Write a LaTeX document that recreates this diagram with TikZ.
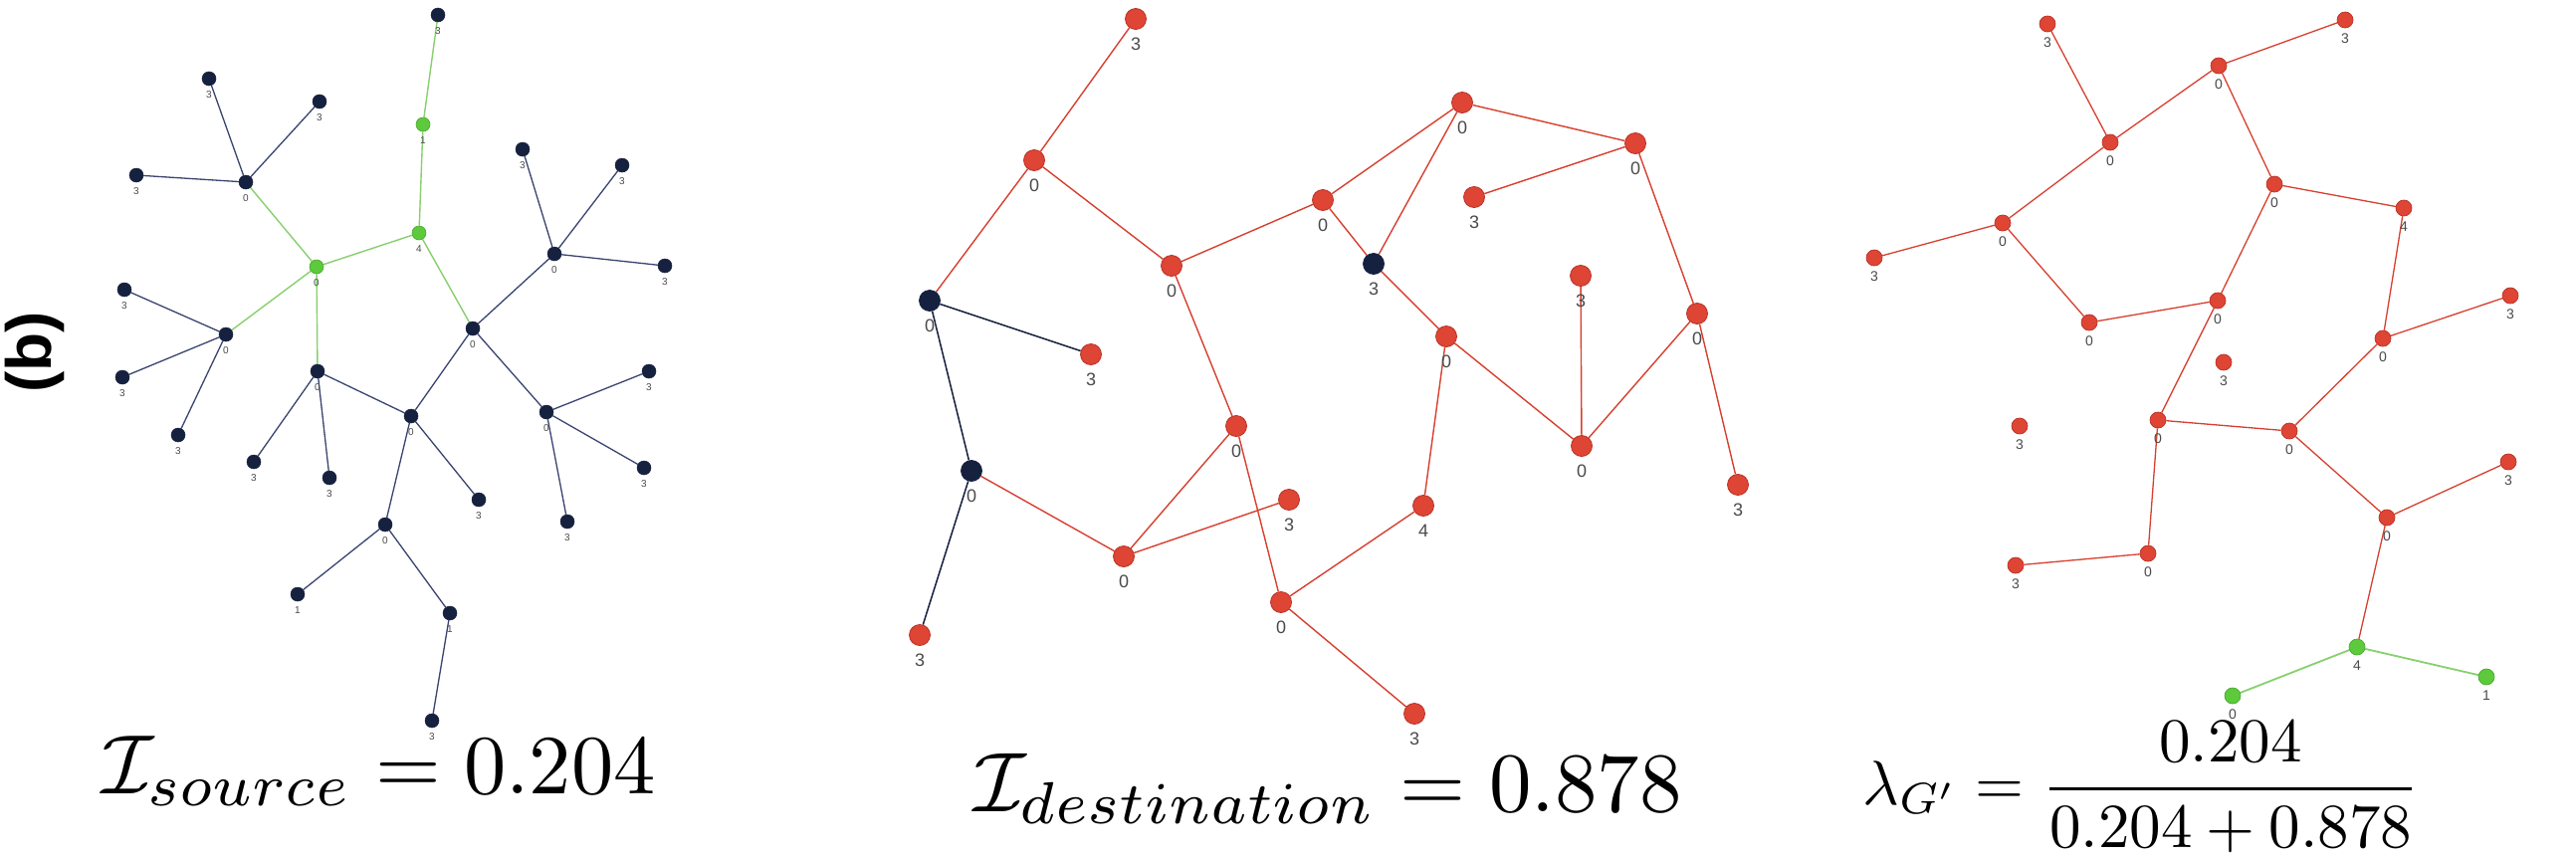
\documentclass[tikz,border=0pt]{standalone}
\usepackage{fontspec}
\newfontfamily\lblfont{Liberation Sans}
\usetikzlibrary{backgrounds}
\definecolor{navy}{HTML}{16213F}
\definecolor{navyedge}{HTML}{3A4470}
\definecolor{redfill}{HTML}{DE4535}
\definecolor{redline}{HTML}{B83226}
\definecolor{rededge}{HTML}{D7402F}
\definecolor{grnfill}{HTML}{5DC93C}
\definecolor{grnline}{HTML}{49A92E}
\definecolor{grnedge}{HTML}{88D06E}
\definecolor{lblgray}{HTML}{4A4A4A}
\tikzset{
  dA/.style={circle,fill=navy,draw=navy,line width=0.5pt,minimum size=14pt,inner sep=0pt},
  gA/.style={circle,fill=grnfill,draw=grnline,line width=0.6pt,minimum size=14pt,inner sep=0pt},
  rB/.style={circle,fill=redfill,draw=redline,line width=0.8pt,minimum size=21pt,inner sep=0pt},
  dB/.style={circle,fill=navy,draw=navy,line width=0.8pt,minimum size=21pt,inner sep=0pt},
  rC/.style={circle,fill=redfill,draw=redline,line width=0.7pt,minimum size=16pt,inner sep=0pt},
  gC/.style={circle,fill=grnfill,draw=grnline,line width=0.7pt,minimum size=16pt,inner sep=0pt},
  labA/.style={font=\lblfont\fontsize{10}{12}\selectfont,text=lblgray,inner sep=0pt,label distance=5pt},
  labB/.style={font=\lblfont\fontsize{18}{20}\selectfont,text=lblgray,inner sep=0pt,label distance=8pt},
  labC/.style={font=\lblfont\fontsize{14}{16}\selectfont,text=lblgray,inner sep=0pt,label distance=5pt},
  eA/.style={draw=navyedge,line width=1.3pt},
  egA/.style={draw=grnedge,line width=1.4pt},
  eB/.style={draw=rededge,line width=1.4pt},
  edB/.style={draw=navy,line width=1.5pt},
  eC/.style={draw=rededge,line width=1.3pt},
  egC/.style={draw=grnedge,line width=1.8pt},
  formula/.style={inner sep=0pt,anchor=base west}
}
\newcommand{\PA}[4]{\node[#1,label={[labA]below:#4}] (#2) at (#3) {};}
\newcommand{\PB}[4]{\node[#1,label={[labB]below:#4}] (#2) at (#3) {};}
\newcommand{\PC}[4]{\node[#1,label={[labC]below:#4}] (#2) at (#3) {};}
\begin{document}
\begin{tikzpicture}[x=1pt,y=-1pt]
\useasboundingbox (0,0) rectangle (2588,860);
\begin{scope}[on background layer]
\fill[white] (0,0) rectangle (2588,860);
\end{scope}
% side label
\node[rotate=90,inner sep=0pt,font=\lblfont\bfseries\fontsize{64}{70}\selectfont] (blabel) at (35,354) {(b)};
% ---------- panel 1 ----------
\PA{dA}{a3t}{440,15}{3}
\PA{gA}{g1}{425,125}{1}
\PA{gA}{g4}{421,234}{4}
\PA{gA}{g0}{318,268}{0}
\PA{dA}{n0a}{247,183}{0}
\PA{dA}{la1}{210,79}{3}
\PA{dA}{la2}{321,102}{3}
\PA{dA}{la3}{137,176}{3}
\PA{dA}{n0b}{227,336}{0}
\PA{dA}{lb1}{125,291}{3}
\PA{dA}{lb2}{123,379}{3}
\PA{dA}{lb3}{179,437}{3}
\PA{dA}{n0c}{319,373}{0}
\PA{dA}{lc1}{255,464}{3}
\PA{dA}{lc2}{331,480}{3}
\PA{dA}{n0d}{413,418}{0}
\PA{dA}{ld1}{481,502}{3}
\PA{dA}{n0e}{387,527}{0}
\PA{dA}{le1}{299,597}{1}
\PA{dA}{le2}{452,616}{1}
\PA{dA}{le3}{434,724}{3}
\PA{dA}{n0f}{475,330}{0}
\PA{dA}{n0g}{557,255}{0}
\PA{dA}{lg1}{525,150}{3}
\PA{dA}{lg2}{625,166}{3}
\PA{dA}{lg3}{668,267}{3}
\PA{dA}{n0h}{549,414}{0}
\PA{dA}{lh1}{652,373}{3}
\PA{dA}{lh2}{647,470}{3}
\PA{dA}{lh3}{570,524}{3}
\begin{scope}[on background layer]
\path[egA] (a3t) -- (g1) (g1) -- (g4) (g4) -- (g0) (g0) -- (n0a) (g0) -- (n0b) (g0) -- (n0c) (g4) -- (n0f);
\path[eA] (n0a) -- (la1) (n0a) -- (la2) (n0a) -- (la3)
  (n0b) -- (lb1) (n0b) -- (lb2) (n0b) -- (lb3)
  (n0c) -- (lc1) (n0c) -- (lc2) (n0c) -- (n0d)
  (n0d) -- (ld1) (n0d) -- (n0e) (n0d) -- (n0f)
  (n0e) -- (le1) (n0e) -- (le2) (le2) -- (le3)
  (n0f) -- (n0g) (n0f) -- (n0h)
  (n0g) -- (lg1) (n0g) -- (lg2) (n0g) -- (lg3)
  (n0h) -- (lh1) (n0h) -- (lh2) (n0h) -- (lh3);
\end{scope}
% ---------- panel 2 ----------
\PB{rB}{t3}{1141,19}{3}
\PB{rB}{r0a}{1039,161}{0}
\PB{dB}{D0a}{934,302}{0}
\PB{rB}{r3a}{1096,356}{3}
\PB{dB}{D0b}{976,473}{0}
\PB{rB}{r3b}{924,638}{3}
\PB{rB}{r0b}{1177,267}{0}
\PB{rB}{r0c}{1242,428}{0}
\PB{rB}{r0d}{1129,559}{0}
\PB{rB}{r3c}{1295,502}{3}
\PB{rB}{r0e}{1287,605}{0}
\PB{rB}{r3d}{1421,717}{3}
\PB{rB}{r4}{1430,508}{4}
\PB{rB}{r0f}{1329,201}{0}
\PB{dB}{D3}{1380,265}{3}
\PB{rB}{r0g}{1469,103}{0}
\PB{rB}{r0h}{1643,144}{0}
\PB{rB}{r3e}{1481,198}{3}
\PB{rB}{r0i}{1453,338}{0}
\PB{rB}{r3f}{1588,277}{3}
\PB{rB}{r0j}{1589,448}{0}
\PB{rB}{r0k}{1705,315}{0}
\PB{rB}{r3g}{1746,487}{3}
\begin{scope}[on background layer]
\path[edB] (D0a) -- (r3a) (D0a) -- (D0b) (D0b) -- (r3b);
\path[eB] (t3) -- (r0a) (r0a) -- (D0a) (r0a) -- (r0b)
  (D0b) -- (r0d) (r0d) -- (r0c) (r0d) -- (r3c)
  (r0b) -- (r0c) (r0c) -- (r0e) (r0e) -- (r3d) (r0e) -- (r4) (r4) -- (r0i)
  (r0b) -- (r0f) (r0f) -- (r0g) (r0f) -- (D3) (D3) -- (r0g) (D3) -- (r0i)
  (r0g) -- (r0h) (r0h) -- (r3e) (r0h) -- (r0k)
  (r0i) -- (r0j) (r3f) -- (r0j) (r0j) -- (r0k) (r0k) -- (r3g);
\end{scope}
% ---------- panel 3 ----------
\PC{rC}{p3a}{2057,24}{3}
\PC{rC}{p3b}{2356,20}{3}
\PC{rC}{p0a}{2229,66}{0}
\PC{rC}{p0b}{2120,143}{0}
\PC{rC}{p0c}{2012,224}{0}
\PC{rC}{p3c}{1883,259}{3}
\PC{rC}{p0d}{2099,324}{0}
\PC{rC}{p0e}{2228,302}{0}
\PC{rC}{p0f}{2285,185}{0}
\PC{rC}{p4}{2415,209}{4}
\PC{rC}{p0g}{2394,340}{0}
\PC{rC}{p3d}{2522,297}{3}
\PC{rC}{p3e}{2234,364}{3}
\PC{rC}{p3f}{2029,428}{3}
\PC{rC}{p0h}{2168,422}{0}
\PC{rC}{p0i}{2300,433}{0}
\PC{rC}{p0j}{2398,520}{0}
\PC{rC}{p3g}{2520,464}{3}
\PC{rC}{p0k}{2158,556}{0}
\PC{rC}{p3h}{2025,568}{3}
\PC{gC}{pg4}{2368,650}{4}
\PC{gC}{pg0}{2243,699}{0}
\PC{gC}{pg1}{2498,680}{1}
\begin{scope}[on background layer]
\path[eC] (p3a) -- (p0b) (p0b) -- (p0a) (p0a) -- (p3b) (p0a) -- (p0f)
  (p0b) -- (p0c) (p0c) -- (p3c) (p0c) -- (p0d) (p0d) -- (p0e) (p0e) -- (p0f)
  (p0f) -- (p4) (p4) -- (p0g) (p0g) -- (p3d) (p0g) -- (p0i)
  (p0e) -- (p0h) (p0h) -- (p0i) (p0h) -- (p0k) (p0k) -- (p3h)
  (p0i) -- (p0j) (p0j) -- (p3g) (p0j) -- (pg4);
\path[egC] (pg4) -- (pg0) (pg4) -- (pg1);
\end{scope}
% ---------- formulas ----------
\node[formula,scale=8.45] (f1) at (101,797) {$\mathcal{I}_{source} = 0.204$};
\node[formula,scale=8.5] (f2) at (977,815) {$\mathcal{I}_{destination} = 0.878$};
\node[formula,scale=6.3] (f3) at (1870,808) {$\displaystyle \lambda_{G'} = \frac{0.204}{0.204+0.878}$};
\end{tikzpicture}
\end{document}
